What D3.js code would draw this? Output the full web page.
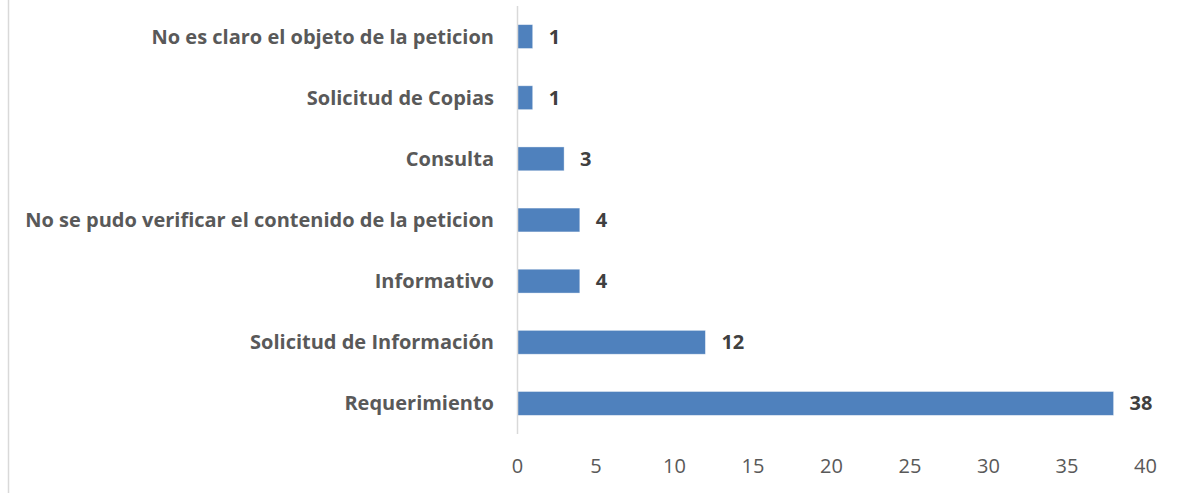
<!DOCTYPE html>
<html><head><meta charset="utf-8">
<script src="https://cdn.jsdelivr.net/npm/d3@7"></script>
<style>body{margin:0;background:#fff}svg{display:block}</style>
</head><body>
<svg id="c" width="1181" height="493"></svg>
<script>
const categories = ["No es claro el objeto de la peticion","Solicitud de Copias","Consulta","No se pudo verificar el contenido de la peticion","Informativo","Solicitud de Información","Requerimiento"];
const values = [1,1,3,4,4,12,38];
const tickValues = [0,5,10,15,20,25,30,35,40];

const svg = d3.select("#c");
const font = "'Open Sans', sans-serif";
const x = d3.scaleLinear().domain([0,40]).range([517,1145]);
const y = d3.scaleBand().domain(categories).range([6,434]).paddingInner(0.61).paddingOuter(0.305);

// outer frame left line
svg.append("line").attr("x1",8.5).attr("x2",8.5).attr("y1",0).attr("y2",493).attr("stroke","#d9d9d9").attr("stroke-width",1.5);

// bars
svg.selectAll("rect.bar").data(categories).join("rect").attr("class","bar")
  .attr("x",x(0)).attr("y",d=>y(d)).attr("width",(d,i)=>x(values[i])-x(0)).attr("height",y.bandwidth())
  .attr("fill","#4f81bd").attr("stroke","#ffffff").attr("stroke-opacity",0.5).attr("stroke-width",0.75);

// axis line
svg.append("line").attr("x1",517.5).attr("x2",517.5).attr("y1",6).attr("y2",434).attr("stroke","#d9d9d9").attr("stroke-width",1.5);

// category labels
const ya = d3.axisLeft(y).tickSize(0).tickPadding(0);
const gy = svg.append("g").attr("transform","translate(494,0)").call(ya);
gy.select(".domain").remove();
gy.selectAll("text").attr("font-family",font).attr("font-weight","bold").attr("font-size",20).attr("fill","#595959").attr("dy","0.35em");

// value labels
svg.selectAll("text.val").data(categories).join("text").attr("class","val")
  .attr("x",(d,i)=>x(values[i])+16).attr("y",d=>y(d)+y.bandwidth()/2).attr("dy","0.35em")
  .attr("font-family",font).attr("font-weight","bold").attr("font-size",20).attr("fill","#404040")
  .text((d,i)=>values[i]);

// x axis ticks
const xa = d3.axisBottom(x).tickValues(tickValues).tickSize(0).tickPadding(0);
const gx = svg.append("g").attr("transform","translate(0,466)").call(xa);
gx.select(".domain").remove();
gx.selectAll("text").attr("font-family",font).attr("font-size",20).attr("fill","#595959").attr("dy","0.35em");
</script>
</body></html>
